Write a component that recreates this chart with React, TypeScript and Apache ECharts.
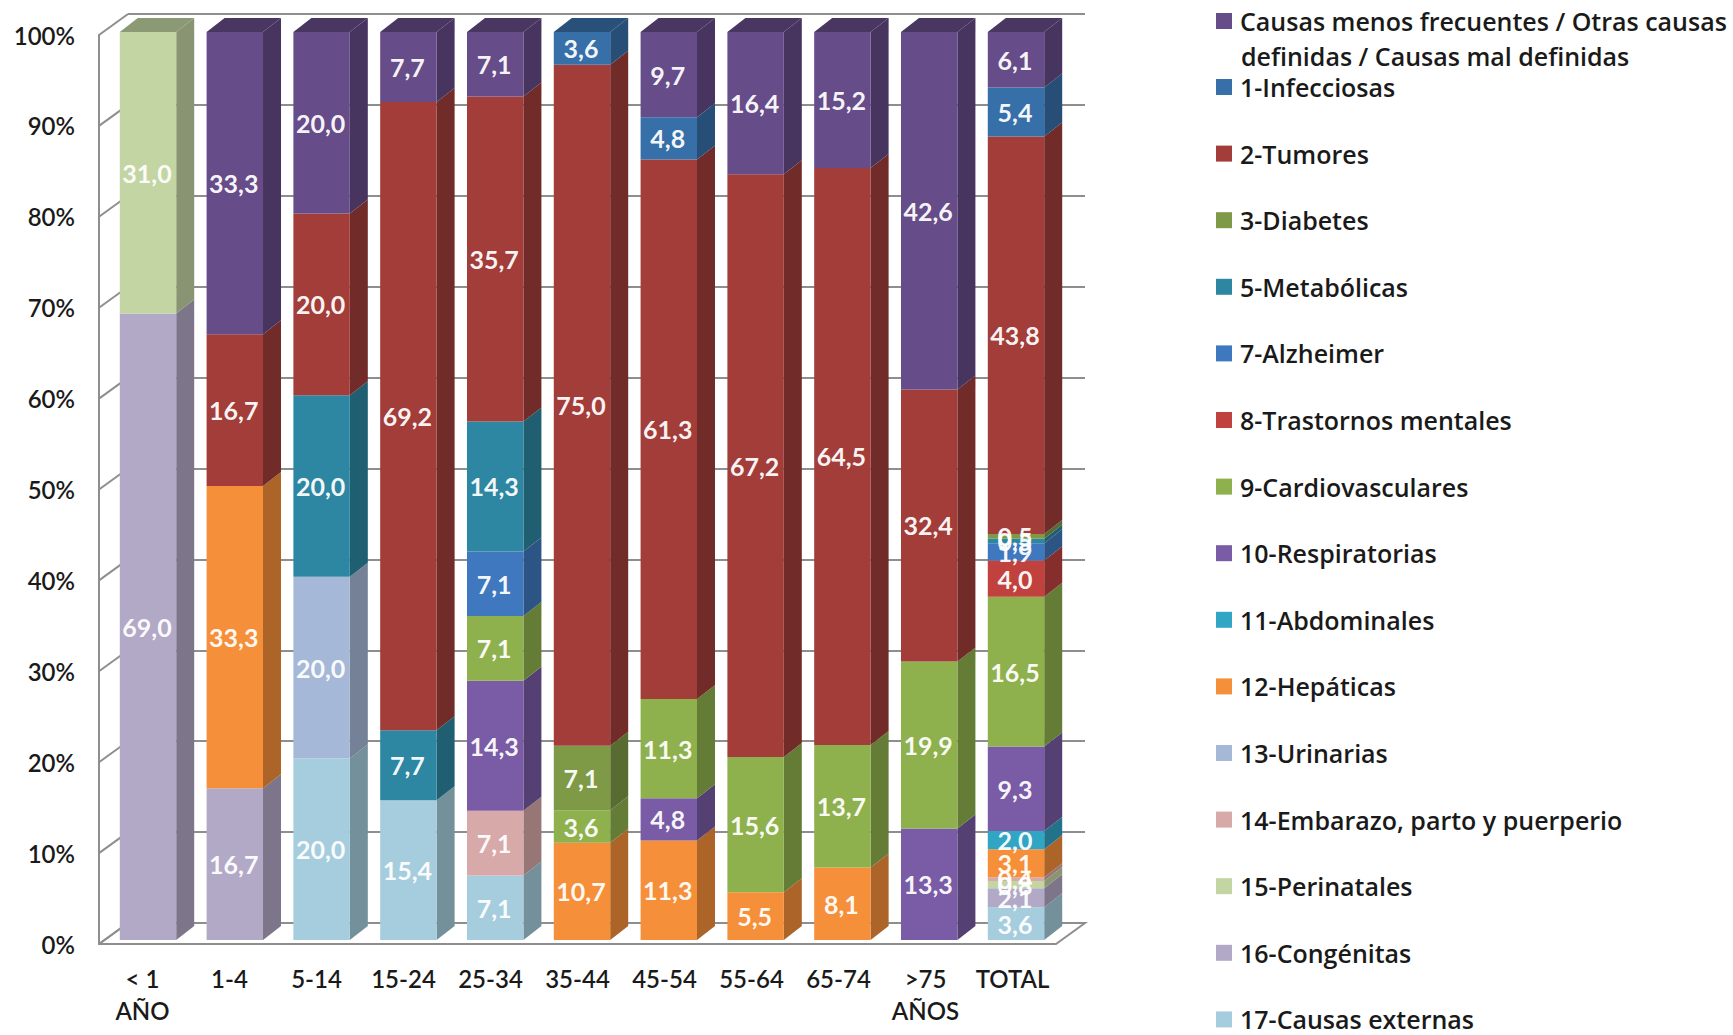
import React, { useEffect, useRef } from "react";
import * as echarts from "echarts";

const categories = ["< 1\nAÑO", "1-4", "5-14", "15-24", "25-34", "35-44", "45-54", "55-64", "65-74", ">75\nAÑOS", "TOTAL"];
const percentTicks = [0, 10, 20, 30, 40, 50, 60, 70, 80, 90, 100];

// Values as printed on the chart; each column is normalised to 100 % as in a 100 % stacked chart.
const externas = [0, 0, 20.0, 15.4, 7.1, 0, 0, 0, 0, 0, 3.6];
const congenitas = [69.0, 16.7, 0, 0, 0, 0, 0, 0, 0, 0, 2.1];
const perinatales = [31.0, 0, 0, 0, 0, 0, 0, 0, 0, 0, 0.8];
const embarazo = [0, 0, 0, 0, 7.1, 0, 0, 0, 0, 0, 0.4];
const urinarias = [0, 0, 20.0, 0, 0, 0, 0, 0, 0, 0, 0];
const hepaticas = [0, 33.3, 0, 0, 0, 10.7, 11.3, 5.5, 8.1, 0, 3.1];
const abdominales = [0, 0, 0, 0, 0, 0, 0, 0, 0, 0, 2.0];
const respiratorias = [0, 0, 0, 0, 14.3, 0, 4.8, 0, 0, 13.3, 9.3];
const cardiovasculares = [0, 0, 0, 0, 7.1, 3.6, 11.3, 15.6, 13.7, 19.9, 16.5];
const mentales = [0, 0, 0, 0, 0, 0, 0, 0, 0, 0, 4.0];
const alzheimer = [0, 0, 0, 0, 7.1, 0, 0, 0, 0, 0, 1.9];
const metabolicas = [0, 0, 20.0, 7.7, 14.3, 0, 0, 0, 0, 0, 0.5];
const diabetes = [0, 0, 0, 0, 0, 7.1, 0, 0, 0, 0, 0.5];
const tumores = [0, 16.7, 20.0, 69.2, 35.7, 75.0, 61.3, 67.2, 64.5, 32.4, 43.8];
const infecciosas = [0, 0, 0, 0, 0, 3.6, 4.8, 0, 0, 0, 5.4];
const menos = [0, 33.3, 20.0, 7.7, 7.1, 0, 9.7, 16.4, 15.2, 42.6, 6.1];

const LEGEND_FIRST = "Causas menos frecuentes / Otras causas";
const LEGEND_FIRST_LINE2 = "definidas / Causas mal definidas";

const stack: [string, number[], string][] = [
  ["17-Causas externas", externas, "#A5CDDD"],
  ["16-Congénitas", congenitas, "#B2A9C6"],
  ["15-Perinatales", perinatales, "#C3D5A3"],
  ["14-Embarazo, parto y puerperio", embarazo, "#D8A9A9"],
  ["13-Urinarias", urinarias, "#A6B8D7"],
  ["12-Hepáticas", hepaticas, "#F68F3A"],
  ["11-Abdominales", abdominales, "#31A5C4"],
  ["10-Respiratorias", respiratorias, "#7A5BA5"],
  ["9-Cardiovasculares", cardiovasculares, "#8FB14D"],
  ["8-Trastornos mentales", mentales, "#C0413E"],
  ["7-Alzheimer", alzheimer, "#3F78BE"],
  ["5-Metabólicas", metabolicas, "#2E87A2"],
  ["3-Diabetes", diabetes, "#7E9A46"],
  ["2-Tumores", tumores, "#A23D39"],
  ["1-Infecciosas", infecciosas, "#376FA8"],
  [LEGEND_FIRST, menos, "#664C88"],
];

const FONT = "Lato, 'Open Sans', sans-serif";
const LEGEND_FONT = "'Open Sans', Lato, sans-serif";
const GREY = "#8E8E8E";
const DEPTH_X = 18;
const DEPTH_Y = 14;
const WALL_X = 29;
const WALL_Y = 21;

function darken(hex: string, f: number) {
  const n = parseInt(hex.slice(1), 16);
  const c = [(n >> 16) & 255, (n >> 8) & 255, n & 255].map((v) => Math.round(v * f));
  return `rgb(${c[0]},${c[1]},${c[2]})`;
}

function buildOption() {
  const totals = categories.map((_, i) => stack.reduce((s, [, v]) => s + v[i], 0));
  const running = categories.map(() => 0);

  const barSeries = stack.map(([name, values, color]) => {
    const data: any[] = [];
    values.forEach((v, i) => {
      if (!v) return;
      const start = (running[i] / totals[i]) * 100;
      running[i] += v;
      const end = (running[i] / totals[i]) * 100;
      data.push([i, start, end, v]);
    });
    const side = darken(color, 0.7);
    const top = darken(color, 0.72);
    return {
      type: "custom",
      name,
      xAxisIndex: 0,
      yAxisIndex: 0,
      z: 3,
      itemStyle: { color },
      encode: { x: 0, y: [1, 2] },
      data,
      renderItem: (_p: any, api: any) => {
        const cat = api.value(0);
        const p0 = api.coord([cat, api.value(1)]);
        const p1 = api.coord([cat, api.value(2)]);
        const w = api.size([1, 0])[0] * 0.65;
        const x1 = p0[0] - w / 2;
        const x2 = p0[0] + w / 2;
        const children: any[] = [
          {
            type: "polygon",
            shape: { points: [[x2, p1[1]], [x2 + DEPTH_X, p1[1] - DEPTH_Y], [x2 + DEPTH_X, p0[1] - DEPTH_Y], [x2, p0[1]]] },
            style: { fill: side },
          },
          { type: "rect", shape: { x: x1, y: p1[1], width: w, height: p0[1] - p1[1] }, style: { fill: color } },
        ];
        if (api.value(2) > 99.99) {
          children.push({
            type: "polygon",
            shape: { points: [[x1, p1[1]], [x1 + DEPTH_X, p1[1] - DEPTH_Y], [x2 + DEPTH_X, p1[1] - DEPTH_Y], [x2, p1[1]]] },
            style: { fill: top },
          });
        }
        children.push({
          type: "text",
          z2: 100,
          style: {
            x: p0[0] - 1,
            y: (p0[1] + p1[1]) / 2,
            text: api.value(3).toFixed(1).replace(".", ","),
            fill: "#FFFFFF",
            opacity: 0.95,
            font: `bold 25px ${FONT}`,
            align: "center",
            verticalAlign: "middle",
          },
        });
        return { type: "group", children };
      },
    };
  });

  const wallTicks = {
    type: "custom",
    name: "wallTicks",
    xAxisIndex: 2,
    yAxisIndex: 2,
    z: 1,
    silent: true,
    encode: { x: 0, y: 1 },
    data: percentTicks.map((t) => [0, t]),
    renderItem: (params: any, api: any) => {
      const y = api.coord([0, api.value(1)])[1];
      const x = params.coordSys.x;
      return {
        type: "line",
        shape: { x1: x, y1: y, x2: x + WALL_X, y2: y - WALL_Y },
        style: { stroke: GREY, lineWidth: 2 },
      };
    },
  };

  const legendText = { fontFamily: LEGEND_FONT, fontSize: 25, fontWeight: 600, color: "#1A1A1A", lineHeight: 26, padding: [0, 0, 0, 3] };

  return {
    animation: false,
    backgroundColor: "#FFFFFF",
    grid: [
      { left: 104.6, top: 32, width: 954.8, height: 908 },
      { left: 128, top: 14, width: 957, height: 909 },
      { left: 99, top: 35, width: 957, height: 909 },
    ],
    xAxis: [
      { gridIndex: 0, type: "category", data: categories, show: false },
      { gridIndex: 1, type: "category", data: categories, show: false },
      {
        gridIndex: 2,
        type: "category",
        data: categories,
        axisLine: { show: true, lineStyle: { color: GREY, width: 2 } },
        axisTick: { show: false },
        axisLabel: {
          interval: 0,
          margin: 18,
          color: "#1A1A1A",
          fontFamily: FONT,
          fontSize: 24,
          fontWeight: 600,
          lineHeight: 32,
        },
      },
    ],
    yAxis: [
      { gridIndex: 0, type: "value", min: 0, max: 100, show: false },
      {
        gridIndex: 1,
        type: "value",
        min: 0,
        max: 100,
        interval: 10,
        axisLine: { show: false },
        axisTick: { show: false },
        axisLabel: { show: false },
        splitLine: { show: true, lineStyle: { color: GREY, width: 2 } },
      },
      {
        gridIndex: 2,
        type: "value",
        min: 0,
        max: 100,
        interval: 10,
        splitLine: { show: false },
        axisLine: { show: true, lineStyle: { color: GREY, width: 2 } },
        axisTick: { show: false },
        axisLabel: {
          margin: 24,
          color: "#1A1A1A",
          fontFamily: FONT,
          fontSize: 24,
          fontWeight: 600,
          formatter: "{value}%",
        },
      },
    ],
    legend: [
      {
        data: [LEGEND_FIRST],
        left: 1216,
        top: 8,
        orient: "vertical",
        icon: "rect",
        itemWidth: 16,
        itemHeight: 16,
        itemGap: 0,
        selectedMode: false,
        padding: 0,
        textStyle: legendText,
      },
      {
        data: [...stack].reverse().slice(1).map((s) => s[0]),
        left: 1216,
        top: 74,
        height: 961,
        orient: "vertical",
        icon: "rect",
        itemWidth: 16,
        itemHeight: 16,
        itemGap: 40.6,
        selectedMode: false,
        padding: 0,
        textStyle: legendText,
      },
    ],
    graphic: [
      {
        type: "polyline",
        z: 0,
        silent: true,
        shape: { points: [[99, 944], [128, 923], [1085, 923], [1056, 944]] },
        style: { stroke: GREY, lineWidth: 2, fill: "none" },
      },
      {
        type: "text",
        left: 1241,
        top: 43,
        silent: true,
        style: { text: LEGEND_FIRST_LINE2, fill: "#1A1A1A", font: `600 25px ${LEGEND_FONT}` },
      },
    ],
    series: [wallTicks, ...barSeries],
  };
}

export default function App() {
  const ref = useRef<HTMLDivElement>(null);
  useEffect(() => {
    if (!ref.current) return;
    const chart = echarts.init(ref.current, undefined, { renderer: "svg" });
    chart.setOption(buildOption() as any);
    return () => chart.dispose();
  }, []);
  return <div ref={ref} style={{ position: "fixed", left: 0, top: 0, width: 1733, height: 1035 }} />;
}
